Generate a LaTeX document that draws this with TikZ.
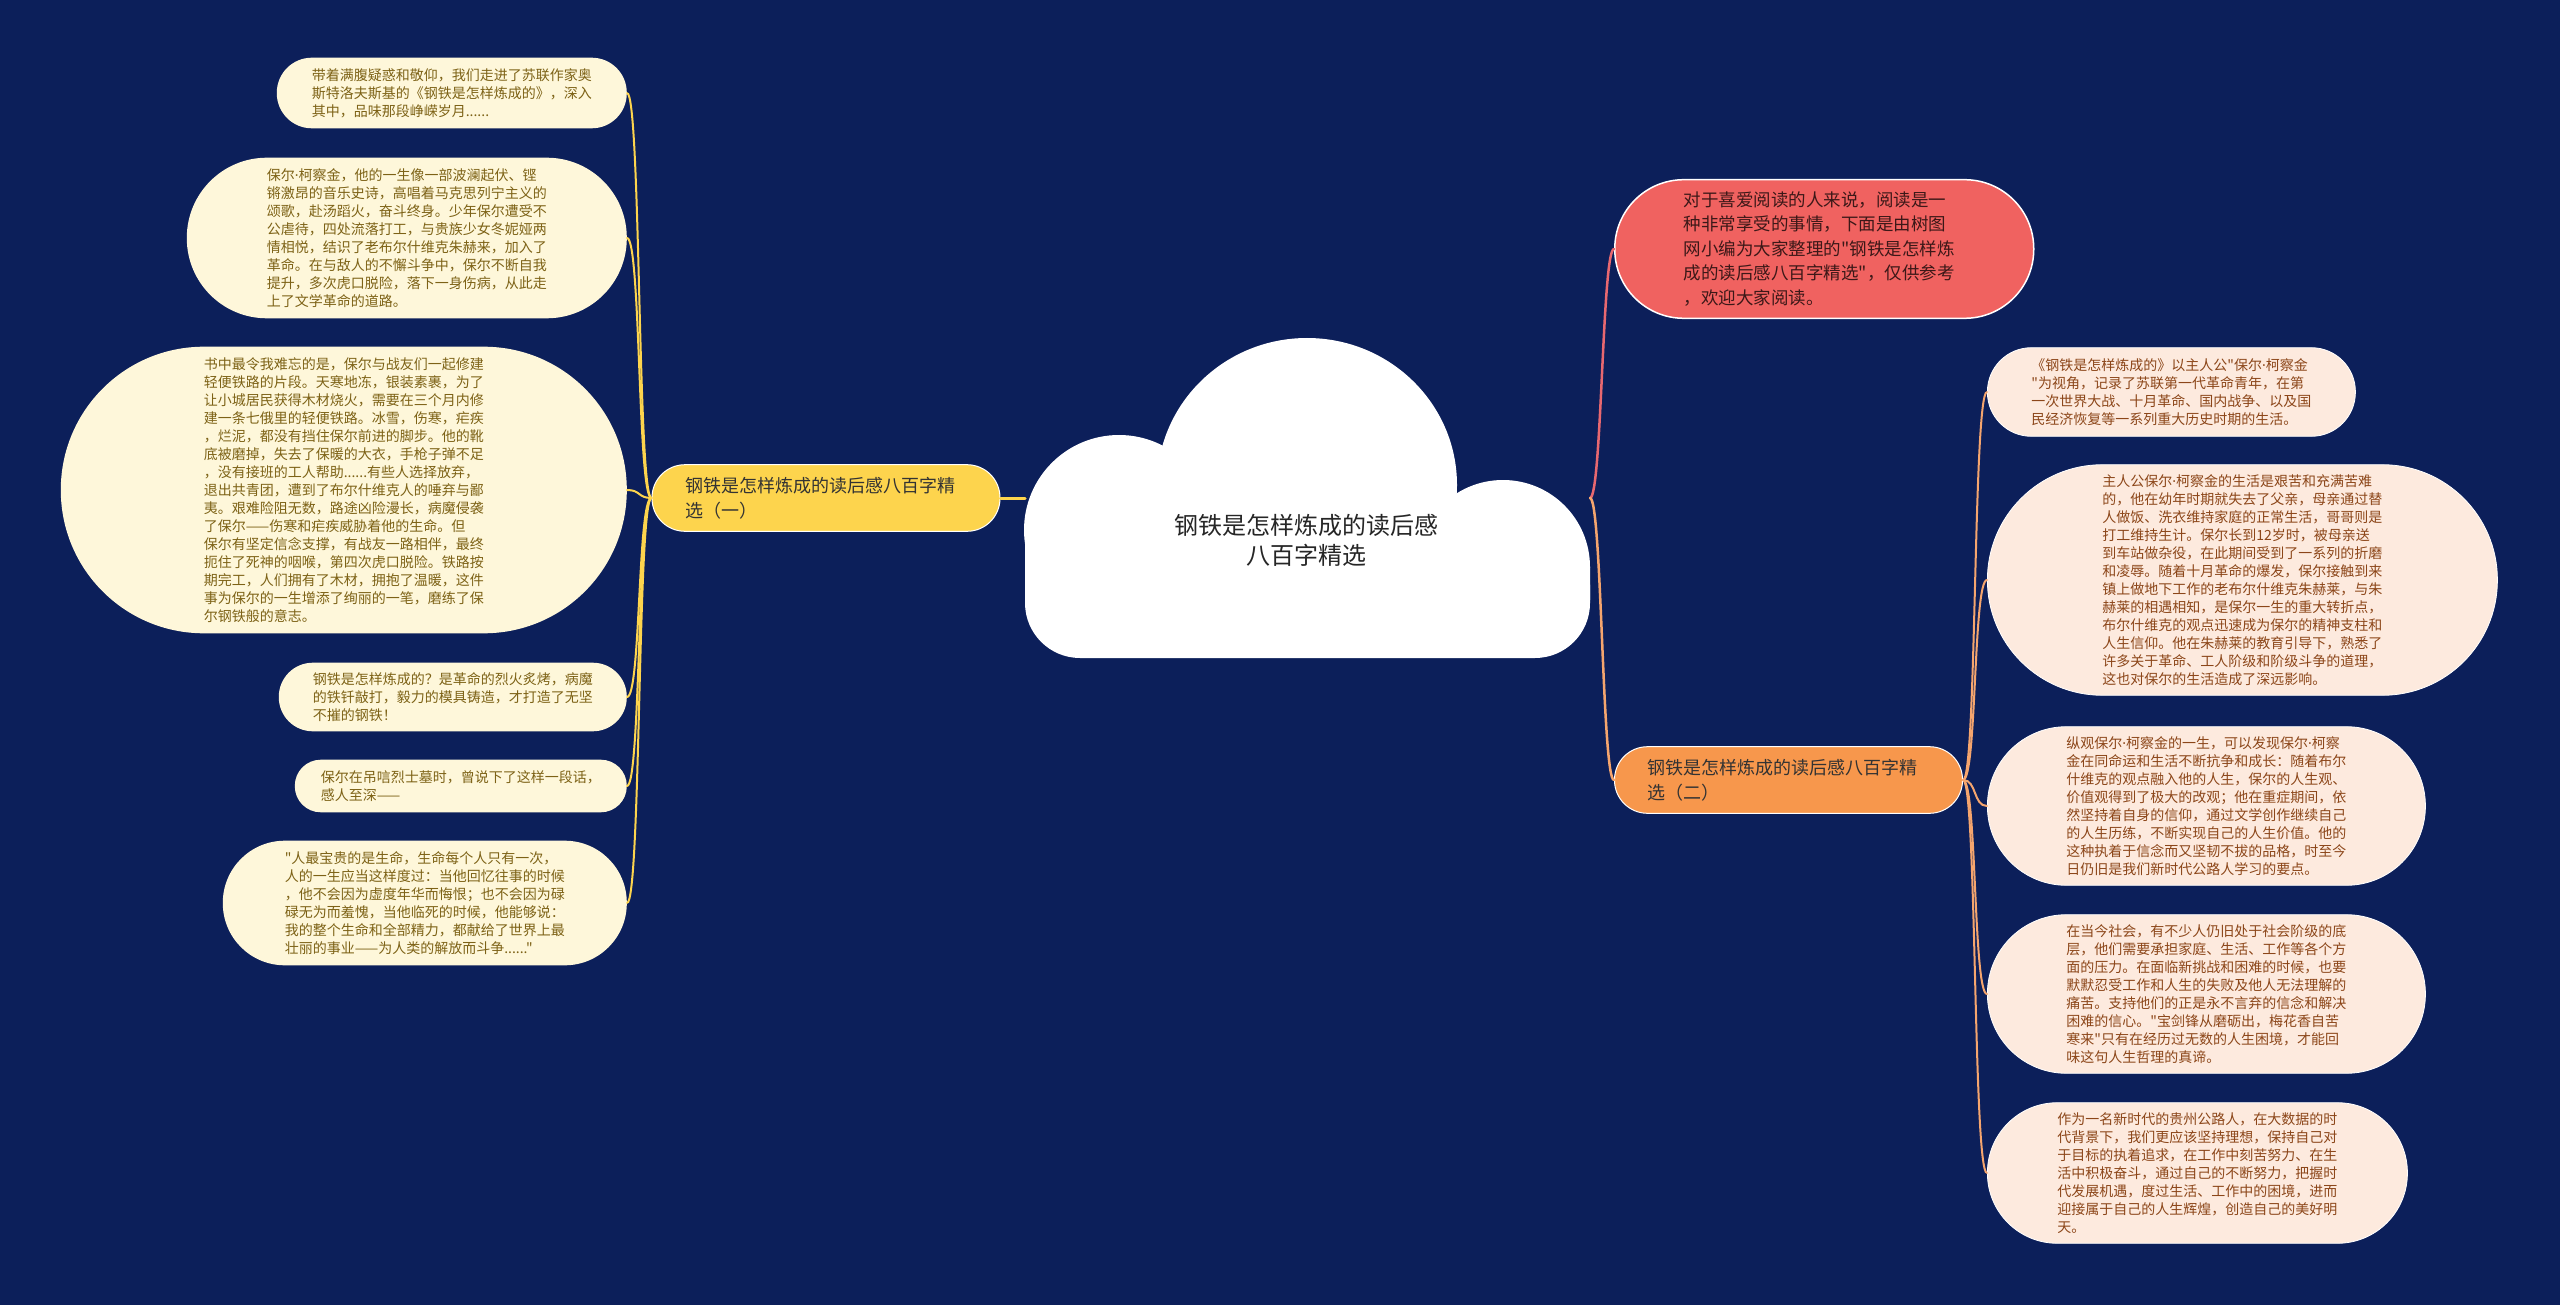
\documentclass[tikz,border=0pt]{standalone}
\usepackage{fontspec}
\newfontfamily\zh{Noto Sans CJK SC}
\newfontfamily\latfont{Noto Sans}
\newcommand{\pdot}{{\latfont ·}}
\usepackage{tikz}
\definecolor{navybg}{RGB}{12,31,90}
\definecolor{topicA}{RGB}{253,212,77}
\definecolor{leafA}{RGB}{254,247,218}
\definecolor{inkA}{RGB}{125,98,22}
\definecolor{introred}{RGB}{240,98,96}
\definecolor{introline}{RGB}{232,104,112}
\definecolor{topicB}{RGB}{247,151,76}
\definecolor{lineB}{RGB}{245,165,110}
\definecolor{leafB}{RGB}{253,234,222}
\definecolor{inkB}{RGB}{140,70,25}
\tikzset{
  pill/.style={rectangle, rounded corners=#1pt, inner xsep=#1pt, inner ysep=3pt,
               minimum height=2*#1pt+0.6pt, align=left},
  topic/.style={pill=33, draw=white, line width=1pt, text width=282pt, text=black!80,
                font=\zh\fontsize{18}{25}\selectfont},
  ltopic/.style={topic, fill=topicA},
  rtopic/.style={topic, fill=topicB, anchor=west},
  leaf/.style={pill=#1, text width=280pt, font=\zh\fontsize{14}{18}\selectfont},
  lleaf/.style={leaf=#1, fill=leafA, text=inkA, anchor=east},
  rleaf/.style={leaf=#1, fill=leafB, text=inkB, draw=white, line width=0.8pt, anchor=west},
  ibox/.style={pill=69, fill=introred, draw=white, line width=1.5pt, text width=281pt,
               text=black!75!introred, font=\zh\fontsize{17.5}{24.5}\selectfont, anchor=west},
  ledge/.style={topicA, line width=2pt},
  iedge/.style={introline, line width=2.5pt},
  redge/.style={lineB, line width=2pt},
  ctext/.style={align=center, text=black!85, font=\zh\fontsize{24}{30}\selectfont},
}
\begin{document}
\begin{tikzpicture}[x=1pt,y=-1pt,line cap=round]
  \fill[navybg] (0,0) rectangle (2560,1305);
  % ====== cloud ======
  \begin{scope}[white]
    \fill (1119,530) circle [radius=95pt];
    \fill (1307,485) ellipse [x radius=150pt, y radius=147pt];
    \fill (1503,567) circle [radius=87pt];
    \fill (1025,530) -- (1503,530) -- (1590,567) -- (1590,600) -- (1025,600) -- cycle;
    \fill[rounded corners=55pt] (1025,530) rectangle (1590,658);
  \end{scope}
  \node[ctext] (ctr) at (1306,540) {钢铁是怎样炼成的读后感\\八百字精选};
  \coordinate (cL) at (1025,498);
  \coordinate (cR) at (1590,498);
  % ====== left branch ======
  \node[ltopic] (t1) at (826,498) {钢铁是怎样炼成的读后感八百字精\\选（一）};
  \node[lleaf=35] (l1) at (627,93) {带着满腹疑惑和敬仰，我们走进了苏联作家奥\\斯特洛夫斯基的《钢铁是怎样炼成的》，深入\\其中，品味那段峥嵘岁月......};
  \node[lleaf=80] (l2) at (627,238) {保尔\pdot 柯察金，他的一生像一部波澜起伏、铿\\锵激昂的音乐史诗，高唱着马克思列宁主义的\\颂歌，赴汤蹈火，奋斗终身。少年保尔遭受不\\公虐待，四处流落打工，与贵族少女冬妮娅两\\情相悦，结识了老布尔什维克朱赫来，加入了\\革命。在与敌人的不懈斗争中，保尔不断自我\\提升，多次虎口脱险，落下一身伤病，从此走\\上了文学革命的道路。};
  \node[lleaf=143] (l3) at (627,490) {书中最令我难忘的是，保尔与战友们一起修建\\轻便铁路的片段。天寒地冻，银装素裹，为了\\让小城居民获得木材烧火，需要在三个月内修\\建一条七俄里的轻便铁路。冰雪，伤寒，疟疾\\，烂泥，都没有挡住保尔前进的脚步。他的靴\\底被磨掉，失去了保暖的大衣，手枪子弹不足\\，没有接班的工人帮助......有些人选择放弃，\\退出共青团，遭到了布尔什维克人的唾弃与鄙\\夷。艰难险阻无数，路途凶险漫长，病魔侵袭\\了保尔——伤寒和疟疾威胁着他的生命。但\\保尔有坚定信念支撑，有战友一路相伴，最终\\扼住了死神的咽喉，第四次虎口脱险。铁路按\\期完工，人们拥有了木材，拥抱了温暖，这件\\事为保尔的一生增添了绚丽的一笔，磨练了保\\尔钢铁般的意志。};
  \node[lleaf=34] (l4) at (627,697) {钢铁是怎样炼成的？是革命的烈火炙烤，病魔\\的铁钎敲打，毅力的模具铸造，才打造了无坚\\不摧的钢铁！};
  \node[lleaf=26] (l5) at (627,786) {保尔在吊唁烈士墓时，曾说下了这样一段话，\\感人至深——};
  \node[lleaf=62] (l6) at (627,903) {"人最宝贵的是生命，生命每个人只有一次，\\人的一生应当这样度过：当他回忆往事的时候\\，他不会因为虚度年华而悔恨；也不会因为碌\\碌无为而羞愧，当他临死的时候，他能够说：\\我的整个生命和全部精力，都献给了世界上最\\壮丽的事业——为人类的解放而斗争......"};
  \draw[ledge, line width=3pt] (cL) -- (t1.east);
  \foreach \k in {l1,l2,l3,l4,l5,l6}
    \draw[ledge] (t1.west) .. controls +(-14,0) and +(14,0) .. (\k.east);
  % ====== right side ======
  \node[ibox] (intro) at (1614,249) {对于喜爱阅读的人来说，阅读是一\\种非常享受的事情，下面是由树图\\网小编为大家整理的"钢铁是怎样炼\\成的读后感八百字精选"，仅供参考\\，欢迎大家阅读。};
  \node[rtopic] (t2) at (1614,780) {钢铁是怎样炼成的读后感八百字精\\选（二）};
  \node[rleaf=44] (r1) at (1987,392) {《钢铁是怎样炼成的》以主人公"保尔\pdot 柯察金\\"为视角，记录了苏联第一代革命青年，在第\\一次世界大战、十月革命、国内战争、以及国\\民经济恢复等一系列重大历史时期的生活。};
  \node[rleaf=115] (r2) at (1987,580) {主人公保尔\pdot 柯察金的生活是艰苦和充满苦难\\的，他在幼年时期就失去了父亲，母亲通过替\\人做饭、洗衣维持家庭的正常生活，哥哥则是\\打工维持生计。保尔长到12岁时，被母亲送\\到车站做杂役，在此期间受到了一系列的折磨\\和凌辱。随着十月革命的爆发，保尔接触到来\\镇上做地下工作的老布尔什维克朱赫莱，与朱\\赫莱的相遇相知，是保尔一生的重大转折点，\\布尔什维克的观点迅速成为保尔的精神支柱和\\人生信仰。他在朱赫莱的教育引导下，熟悉了\\许多关于革命、工人阶级和阶级斗争的道理，\\这也对保尔的生活造成了深远影响。};
  \node[rleaf=79] (r3) at (1987,806) {纵观保尔\pdot 柯察金的一生，可以发现保尔\pdot 柯察\\金在同命运和生活不断抗争和成长：随着布尔\\什维克的观点融入他的人生，保尔的人生观、\\价值观得到了极大的改观；他在重症期间，依\\然坚持着自身的信仰，通过文学创作继续自己\\的人生历练，不断实现自己的人生价值。他的\\这种执着于信念而又坚韧不拔的品格，时至今\\日仍旧是我们新时代公路人学习的要点。};
  \node[rleaf=79] (r4) at (1987,994) {在当今社会，有不少人仍旧处于社会阶级的底\\层，他们需要承担家庭、生活、工作等各个方\\面的压力。在面临新挑战和困难的时候，也要\\默默忍受工作和人生的失败及他人无法理解的\\痛苦。支持他们的正是永不言弃的信念和解决\\困难的信心。"宝剑锋从磨砺出，梅花香自苦\\寒来"只有在经历过无数的人生困境，才能回\\味这句人生哲理的真谛。};
  \node[rleaf=70] (r5) at (1987,1173) {作为一名新时代的贵州公路人，在大数据的时\\代背景下，我们更应该坚持理想，保持自己对\\于目标的执着追求，在工作中刻苦努力、在生\\活中积极奋斗，通过自己的不断努力，把握时\\代发展机遇，度过生活、工作中的困境，进而\\迎接属于自己的人生辉煌，创造自己的美好明\\天。};
  \draw[iedge] (cR) .. controls +(12,0) and +(-12,0) .. (intro.west);
  \draw[redge, line width=2.5pt] (cR) .. controls +(12,0) and +(-12,0) .. (t2.west);
  \foreach \k in {r1,r2,r3,r4,r5}
    \draw[redge] (t2.east) .. controls +(14,0) and +(-14,0) .. (\k.west);
\end{tikzpicture}
\end{document}
